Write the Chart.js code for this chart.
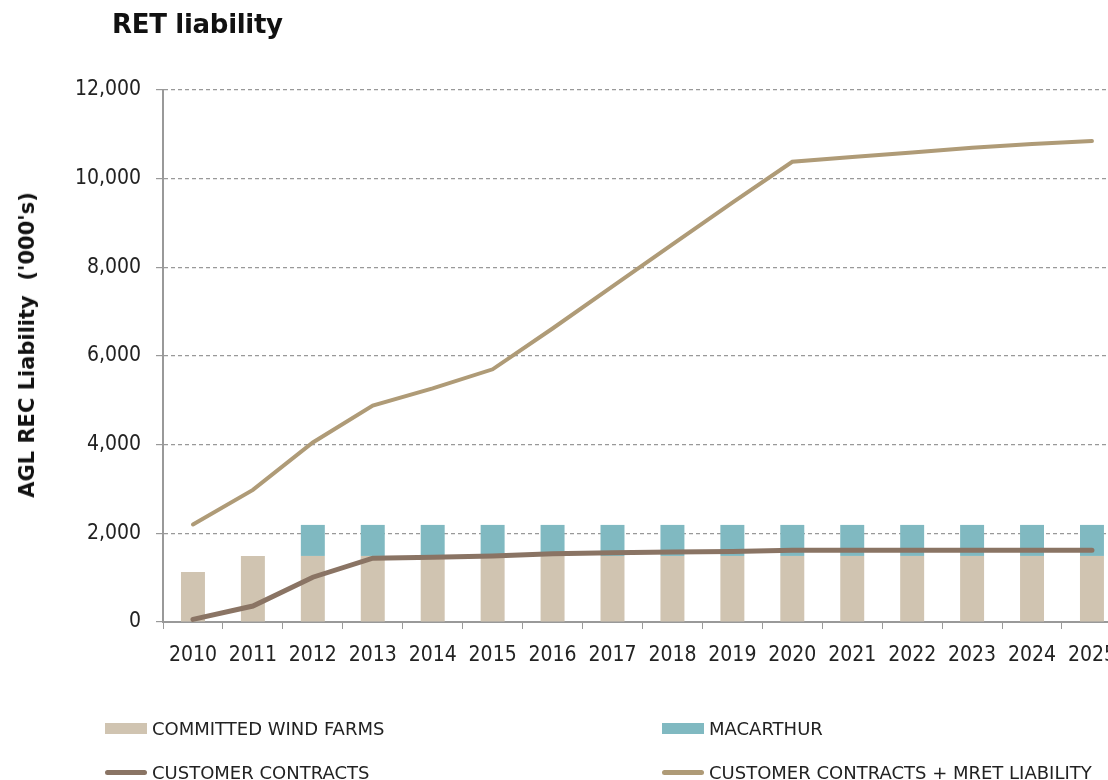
<!DOCTYPE html>
<html>
<head>
<meta charset="utf-8">
<script src="https://cdn.jsdelivr.net/npm/chart.js@4"></script>
<style>
  html,body{margin:0;padding:0;background:#fff;overflow:hidden;width:1108px;height:780px;}
  #wrap{position:absolute;left:0;top:0;width:1130px;height:780px;}
  #title{position:absolute;left:112px;top:9px;font:bold 26px "DejaVu Sans", sans-serif;color:#111;letter-spacing:-0.3px;}
  #ytitle{position:absolute;left:27px;top:345px;transform:translate(-50%,-50%) rotate(-90deg);font:bold 21px "DejaVu Sans", sans-serif;color:#111;white-space:pre;}
  .lg{position:absolute;font:18px "DejaVu Sans",sans-serif;color:#222;white-space:nowrap;display:flex;align-items:center;}
  .lg i{display:inline-block;width:42px;margin-right:5px;}
</style>
</head>
<body>
<div id="wrap"><canvas id="c" width="1130" height="780"></canvas></div>
<div id="title">RET liability</div>
<div id="ytitle">AGL REC Liability  ('000's)</div>
<div id="legend"></div>
<script>
// categories and values (in '000s)
const years = ['2010','2011','2012','2013','2014','2015','2016','2017','2018','2019','2020','2021','2022','2023','2024','2025'];
const windFarms = [1130,1490,1490,1490,1490,1490,1490,1490,1490,1490,1490,1490,1490,1490,1490,1490];
const macarthur = [0,0,700,700,700,700,700,700,700,700,700,700,700,700,700,700];
const customerContracts = [60,360,1010,1440,1460,1490,1540,1560,1580,1590,1620,1620,1620,1620,1620,1620];
const contractsPlusMret = [2200,2980,4050,4880,5270,5700,6620,7570,8520,9460,10380,10490,10590,10700,10780,10850];
const yTicks = [0,2000,4000,6000,8000,10000,12000];

const colors = {wind:'#d0c4b1', mac:'#80b9c1', cc:'#8a7464', mret:'#af9b77'};
const fontName = '"DejaVu Sans Condensed","DejaVu Sans",sans-serif';

const datasets = [
  {type:'bar', label:'COMMITTED WIND FARMS', data:windFarms, backgroundColor:colors.wind, stack:'bars', order:2, barPercentage:0.4, categoryPercentage:1},
  {type:'bar', label:'MACARTHUR', data:macarthur, backgroundColor:colors.mac, stack:'bars', order:2, barPercentage:0.4, categoryPercentage:1},
  {type:'line', label:'CUSTOMER CONTRACTS', data:customerContracts, borderColor:colors.cc, borderWidth:5, pointRadius:0, tension:0, stack:'l1', order:1, borderCapStyle:'round'},
  {type:'line', label:'CUSTOMER CONTRACTS + MRET LIABILITY', data:contractsPlusMret, borderColor:colors.mret, borderWidth:4, pointRadius:0, tension:0, stack:'l2', order:1, borderCapStyle:'round'}
];

new Chart(document.getElementById('c'), {
  data: {labels: years, datasets},
  options: {
    responsive:false, animation:false,
    layout:{padding:{left:0, top:90, right:0, bottom:0}},
    plugins:{legend:{display:false}, tooltip:{enabled:false}},
    scales:{
      x:{
        stacked:true,
        grid:{drawOnChartArea:false, drawTicks:true, tickLength:7, color:'#999', offset:true},
        border:{color:'#999', width:2},
        ticks:{font:{family:fontName, size:21}, color:'#222', padding:14, maxRotation:0, autoSkip:false},
        afterFit:s=>{ s.height = 158; }
      },
      y:{
        stacked:true, min:0, max:12000,
        afterBuildTicks:s=>{ s.ticks = yTicks.map(v=>({value:v})); },
        grid:{color:'#999', tickBorderDash:[], tickLength:7, lineWidth:1.2},
        border:{color:'#999', width:2, dash:[4,3]},
        ticks:{font:{family:fontName, size:21}, color:'#222', padding:15, callback:v=>v.toLocaleString('en-US')},
        afterFit:s=>{ s.width = 163; }
      }
    }
  }
});

// legend built from datasets
const legendPos = [[105,729],[662,729],[105,773],[662,773]];
const lg = document.getElementById('legend');
datasets.forEach((d,i)=>{
  const el = document.createElement('div');
  el.className = 'lg';
  el.style.left = legendPos[i][0]+'px';
  el.style.top = (legendPos[i][1]-11)+'px';
  const sw = document.createElement('i');
  if(d.type==='bar'){ sw.style.height='11px'; sw.style.background=d.backgroundColor; }
  else { sw.style.height='5px'; sw.style.borderRadius='3px'; sw.style.background=d.borderColor; }
  el.appendChild(sw);
  el.appendChild(document.createTextNode(d.label));
  lg.appendChild(el);
});
</script>
</body>
</html>
